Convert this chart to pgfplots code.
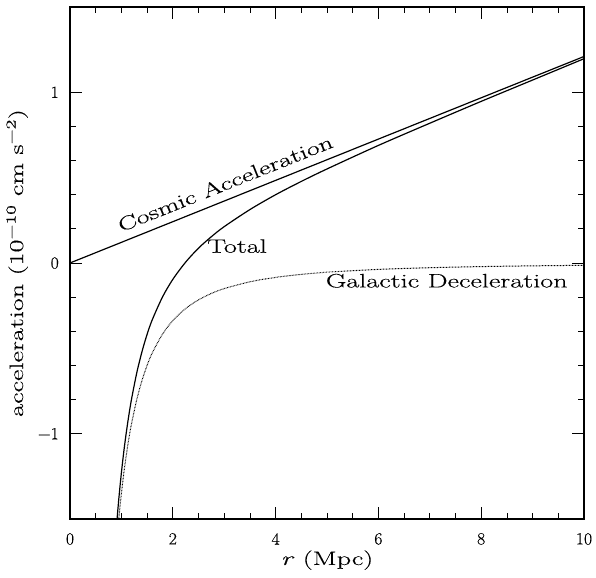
\documentclass[border=0pt]{standalone}
\usepackage{fontspec}
\usepackage{pgfplots}
\pgfplotsset{compat=1.18}
\newfontfamily\labfont[FakeStretch=1.45,FakeBold=0.3]{Latin Modern Roman}
\newfontfamily\tickfont[FakeStretch=1.05,FakeBold=0.3]{Latin Modern Roman}
\newcommand{\lf}{\labfont\fontsize{19.5}{22}\selectfont}
\newcommand{\tf}{\tickfont\fontsize{17}{20}\selectfont}
\begin{document}
\begin{tikzpicture}
\useasboundingbox (-70bp,-59bp) rectangle (526bp,519bp);
\begin{axis}[
  at={(0,0)}, anchor=south west,
  scale only axis, width=514bp, height=512bp,
  xmin=0, xmax=10, ymin=-1.5, ymax=1.5,
  xtick={0,2,4,6,8,10}, xticklabels={{\tf 0},{\tf 2},{\tf 4},{\tf 6},{\tf 8},{\tf 10}},
  ytick={-1,0,1}, yticklabels={{\tf −1},{\tf 0},{\tf 1}},
  minor x tick num=3, minor y tick num=4,
  major tick length=12bp, minor tick length=6bp,
  tick style={black, line width=0.8bp},
  axis line style={line width=1.6bp},
  xticklabel style={inner sep=0pt, yshift=-14bp},
  yticklabel style={inner sep=0pt, xshift=-11bp},
  xlabel={{\lf\textit{r} (Mpc)}},
  ylabel={{\lf acceleration (10\textsuperscript{−10} cm s\textsuperscript{−2})}},
  xlabel style={at={(axis description cs:0.5,-0.0898)}, anchor=base},
  ylabel style={at={(axis description cs:-0.0914,0.5)}, anchor=base},
  clip=true,
]
% Cosmic acceleration
\addplot[black, line width=1.2bp] coordinates {(0,0) (10,1.21)};
% Galactic deceleration
\addplot[black, line width=1bp, dash pattern=on 0.7bp off 0.8bp, smooth] coordinates {
(0.90,-1.667) (0.95,-1.496) (1.0,-1.35) (1.05,-1.2245) (1.1,-1.116) (1.15,-1.021)
(1.2,-0.9375) (1.3,-0.799) (1.4,-0.689) (1.5,-0.600) (1.6,-0.527) (1.8,-0.417)
(2.0,-0.3375) (2.25,-0.2667) (2.5,-0.216) (2.75,-0.1785) (3.0,-0.150) (3.5,-0.1102)
(4.0,-0.0844) (4.5,-0.0667) (5.0,-0.054) (6.0,-0.0375) (7.0,-0.0276) (8.0,-0.0211)
(9.0,-0.0167) (10.0,-0.0135)};
% Total
\addplot[black, line width=1.2bp, smooth] coordinates {
(0.85,-1.766) (0.9,-1.558) (0.95,-1.381) (1.0,-1.229) (1.05,-1.097) (1.1,-0.983)
(1.15,-0.882) (1.2,-0.793) (1.3,-0.642) (1.4,-0.520) (1.5,-0.418) (1.6,-0.333)
(1.8,-0.199) (2.0,-0.096) (2.25,0.005) (2.5,0.087) (2.75,0.154) (3.0,0.213)
(3.5,0.313) (4.0,0.400) (4.5,0.478) (5.0,0.551) (6.0,0.689) (7.0,0.819)
(8.0,0.947) (9.0,1.072) (10.0,1.197)};
\node[anchor=base, rotate=21.85, inner sep=0pt] at (axis cs:3.07,0.43) {\lf Cosmic Acceleration};
\node[anchor=base, inner sep=0pt] at (axis cs:3.25,0.06) {\lf Total};
\node[anchor=base, inner sep=0pt] at (axis cs:7.33,-0.143) {\lf Galactic Deceleration};
\end{axis}
\end{tikzpicture}
\end{document}
